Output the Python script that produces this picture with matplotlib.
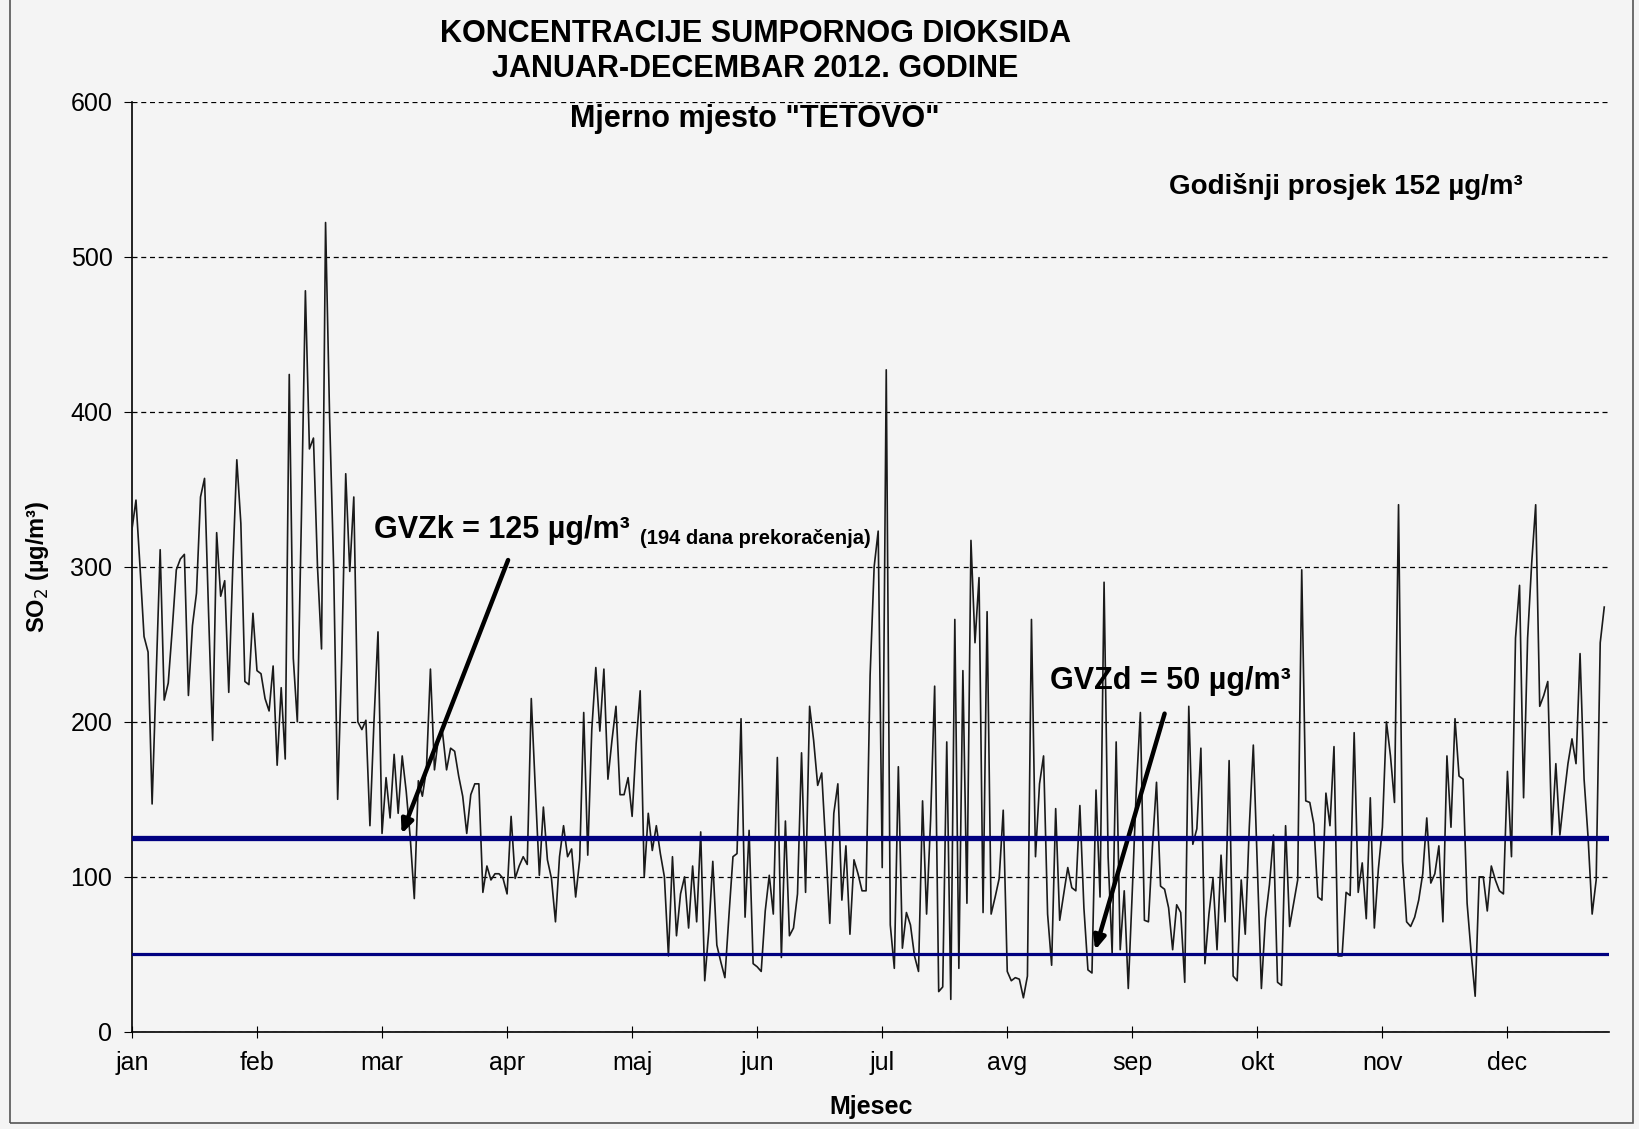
import matplotlib.pyplot as plt
from matplotlib.patches import Rectangle

plt.rcParams["font.family"] = ["Liberation Sans", "DejaVu Sans"]

# daily SO2 concentrations 2012 (µg/m3)
jan = [324, 343, 300, 255, 245, 147, 230, 311, 214, 225, 260, 298, 305, 308, 217, 262,
       283, 345, 357, 270, 188, 322, 281, 291, 219, 300, 369, 328, 226, 224, 270]
feb = [233, 231, 215, 207, 236, 172, 222, 176, 424, 241, 200, 330, 478, 376, 383, 300,
       247, 522, 397, 300, 150, 240, 360, 297, 345, 200, 195, 201, 133]
mar = [200, 258, 128, 164, 138, 179, 141, 178, 155, 125, 86, 162, 152, 169, 234, 169,
       190, 193, 169, 183, 181, 165, 152, 128, 153, 160, 160, 90, 107, 98, 102]
apr = [102, 99, 89, 139, 99, 107, 113, 108, 215, 157, 101, 145, 111, 99, 71, 113,
       133, 113, 118, 87, 111, 206, 114, 195, 235, 194, 234, 163, 188, 210]
maj = [153, 153, 164, 139, 186, 220, 100, 141, 117, 133, 115, 100, 49, 113, 62, 89,
       100, 67, 107, 71, 129, 33, 65, 110, 56, 45, 35, 75, 113, 115, 202]
jun = [74, 130, 44, 42, 39, 78, 101, 76, 177, 48, 136, 62, 67, 89, 180, 90,
       210, 188, 159, 167, 120, 70, 141, 160, 85, 120, 63, 111, 102, 91]
jul = [91, 230, 300, 323, 106, 427, 69, 41, 171, 54, 77, 69, 49, 39, 149, 76,
       137, 223, 26, 29, 187, 21, 266, 41, 233, 83, 317, 251, 293, 77, 271]
avg = [76, 87, 99, 143, 39, 33, 35, 34, 22, 36, 266, 113, 160, 178, 76, 43,
       144, 72, 89, 106, 93, 91, 146, 80, 40, 38, 156, 87, 290, 113, 51]
sep = [187, 53, 91, 28, 91, 157, 206, 72, 71, 120, 161, 94, 92, 80, 53, 82,
       77, 32, 210, 121, 131, 183, 44, 76, 99, 53, 114, 71, 175, 36]
okt = [33, 98, 63, 132, 185, 107, 28, 73, 95, 127, 32, 30, 133, 68, 83, 98,
       298, 149, 148, 134, 87, 85, 154, 133, 184, 49, 49, 90, 88, 193, 90]
nov = [109, 73, 151, 67, 105, 132, 200, 178, 148, 340, 110, 71, 68, 74, 85, 102,
       138, 96, 102, 120, 71, 178, 132, 202, 165, 163, 83, 51, 23, 100]
dec = [100, 78, 107, 98, 91, 89, 168, 113, 254, 288, 151, 254, 302, 340, 210, 217,
       226, 127, 173, 127, 151, 173, 189, 173, 244, 163, 125, 76, 98, 251, 274]

so2 = jan + feb + mar + apr + maj + jun + jul + avg + sep + okt + nov + dec
months = ["jan", "feb", "mar", "apr", "maj", "jun", "jul", "avg", "sep", "okt", "nov", "dec"]
gvz_k = 125
gvz_d = 50

days = list(range(len(so2)))

fig = plt.figure(figsize=(16.39, 11.29), dpi=100, facecolor="#f4f4f4")
ax = fig.add_axes([0.0805, 0.086, 0.9015, 0.824], facecolor="#f4f4f4")

# outer frame of the chart area
fig.patches.append(Rectangle((0.0064, 0.005), 0.99, 1.2, transform=fig.transFigure,
                             fill=False, edgecolor="#555555", lw=1.2))

ax.plot(days, so2, color="#1a1a1a", lw=1.2, zorder=3)
ax.axhline(gvz_k, color="#000080", lw=3.8, zorder=4)
ax.axhline(gvz_d, color="#000080", lw=2.3, zorder=4)

ax.set_xlim(0, 366.3)
ax.set_ylim(0, 600)
ax.set_yticks(range(0, 601, 100))
ax.set_xticks(range(0, 366, 31))
ax.set_xticklabels(months)
ax.yaxis.grid(True, color="black", ls=(0, (4, 3)), lw=0.9)
ax.set_axisbelow(True)

for side in ["top", "right"]:
    ax.spines[side].set_visible(False)
ax.spines["left"].set_linewidth(1.2)
ax.spines["bottom"].set_linewidth(1.2)
ax.tick_params(axis="y", direction="out", length=6, labelsize=18, pad=8)
ax.tick_params(axis="x", direction="inout", length=8, labelsize=18, pad=10)

ax.set_ylabel("SO$_2$ (µg/m³)", fontsize=17, fontweight="bold", labelpad=14)
ax.set_xlabel("Mjesec", fontsize=18, fontweight="bold", labelpad=14)

fig.text(0.461, 0.970, "KONCENTRACIJE SUMPORNOG DIOKSIDA", ha="center", va="center",
         fontsize=22, fontweight="bold")
fig.text(0.461, 0.939, "JANUAR-DECEMBAR 2012. GODINE", ha="center", va="center",
         fontsize=22, fontweight="bold")
ax.text(154.4, 589, "Mjerno mjesto \"TETOVO\"", ha="center", va="center",
        fontsize=22, fontweight="bold")
ax.text(257, 545, "Godišnji prosjek 152 µg/m³", ha="left", va="center",
        fontsize=20, fontweight="bold")

ax.text(60, 324, "GVZk = 125 µg/m³", ha="left", va="center", fontsize=22, fontweight="bold")
ax.text(126, 318, "(194 dana prekoračenja)", ha="left", va="center", fontsize=14.5, fontweight="bold")
ax.annotate("", xy=(66.6, 126), xytext=(93.5, 306),
            arrowprops=dict(arrowstyle="-|>,head_length=0.8,head_width=0.35", lw=3.2, color="black"))

ax.text(227.5, 226, "GVZd = 50 µg/m³", ha="left", va="center", fontsize=22, fontweight="bold")
ax.annotate("", xy=(238.6, 51), xytext=(256.2, 207),
            arrowprops=dict(arrowstyle="-|>,head_length=0.8,head_width=0.35", lw=3.2, color="black"))

fig.savefig("out.png", dpi=100, facecolor=fig.get_facecolor())
